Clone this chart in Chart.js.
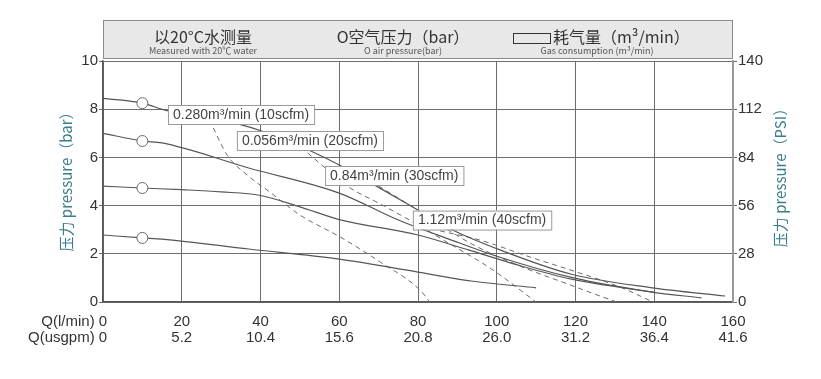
<!DOCTYPE html>
<html><head><meta charset="utf-8">
<script src="https://cdn.jsdelivr.net/npm/chart.js@4/dist/chart.umd.min.js"></script>
<style>html,body{margin:0;padding:0;background:#fff}#wrap{width:821px;height:379px;position:relative}</style>
</head><body><div id="wrap"><canvas id="c" width="821" height="379"></canvas></div>
<script>
// ---- tick labels ----
const flowTicks   = [0, 20, 40, 60, 80, 100, 120, 140, 160];
const lpmLabels   = ['0', '20', '40', '60', '80', '100', '120', '140', '160'];
const usgpmLabels = ['0', '5.2', '10.4', '15.6', '20.8', '26.0', '31.2', '36.4', '41.6'];
const barTicks    = [0, 2, 4, 6, 8, 10];
const psiTicks    = [0, 28, 56, 84, 112, 140];

// ---- pressure curves (flow l/min, pressure bar) ----
const curveA_x = [0, 10, 16, 34, 42, 51, 61, 69, 78, 88, 101, 119, 139, 158];
const curveA_y = [8.45, 8.25, 7.95, 7.4, 7.0, 6.4, 5.6, 4.85, 4.0, 3.05, 2.15, 1.15, 0.6, 0.25];
const curveB_x = [0, 10, 15, 37, 60, 75, 88, 100, 119, 139, 152];
const curveB_y = [7.0, 6.68, 6.6, 5.56, 4.52, 3.4, 2.6, 1.9, 1.02, 0.42, 0.17];
const curveC_x = [0, 10, 20, 30, 40, 50, 60, 80, 93, 105, 119, 140];
const curveC_y = [4.81, 4.73, 4.66, 4.57, 4.42, 3.95, 3.42, 2.78, 2.15, 1.55, 0.95, 0.4];
const curveD_x = [0, 10, 15, 37, 60, 80, 94, 110];
const curveD_y = [2.78, 2.66, 2.61, 2.2, 1.78, 1.24, 0.86, 0.59];
const markerFlow = 10;

// ---- air consumption curves (dashed) ----
const air10_x = [28, 31.5, 36.6, 42.4, 50, 60.2, 70.4, 80.5, 83];
const air10_y = [7.22, 6.1, 5.27, 4.56, 3.61, 2.7, 1.66, 0.5, 0];
const air20_x = [52, 55.6, 62, 70.4, 78.7, 88.1, 98.3, 110];
const air20_y = [6.18, 5.68, 4.81, 4.07, 3.32, 2.41, 1.41, 0];
const air30_x = [70, 78.7, 93.2, 105.9, 118.6, 126.2, 130.5];
const air30_y = [4.81, 3.94, 2.45, 1.49, 0.71, 0.25, 0];
const air40_x = [85.6, 95.7, 108.4, 121.1, 131.3, 139.7];
const air40_y = [2.95, 2.57, 1.87, 1.2, 0.62, 0];

const airLabels = ['0.280m³/min (10scfm)', '0.056m³/min (20scfm)', '0.84m³/min (30scfm)', '1.12m³/min (40scfm)'];
const airLabelFlow = [16.5, 34.0, 56.4, 78.7];
const airLabelBar  = [7.78, 6.70, 5.25, 3.40];

const zip = (xs, ys) => xs.map((x, i) => ({x: x, y: ys[i]}));

const solid = (xs, ys) => ({
  data: zip(xs, ys), borderColor: '#565656', borderWidth: 1.2, fill: false,
  cubicInterpolationMode: 'monotone',
  pointRadius: c => (c.raw && c.raw.x === markerFlow ? 5.5 : 0),
  pointHoverRadius: 0, pointBackgroundColor: '#fff', pointBorderColor: '#6a6a6a', pointBorderWidth: 1
});
const dashed = (xs, ys) => ({
  data: zip(xs, ys), borderColor: '#6a6a6a', borderWidth: 1, borderDash: [5, 4], fill: false,
  cubicInterpolationMode: 'monotone', pointRadius: 0, pointHoverRadius: 0
});

const FONT = "'Liberation Sans', Arial, sans-serif";
const CJK = "'Noto Sans CJK SC', 'Noto Sans', sans-serif";

const decor = {
  id: 'decor',
  afterDatasetsDraw(chart) {
    const ctx = chart.ctx, xs = chart.scales.x, ys = chart.scales.y;
    ctx.save();
    ctx.font = '14px ' + FONT;
    ctx.textBaseline = 'middle';
    ctx.textAlign = 'left';
    airLabels.forEach((t, i) => {
      const l = xs.getPixelForValue(airLabelFlow[i]);
      const cy = ys.getPixelForValue(airLabelBar[i]);
      const w = ctx.measureText(t).width + 10;
      ctx.fillStyle = '#fff';
      ctx.fillRect(l, cy - 9.5, w, 19);
      ctx.strokeStyle = '#9a9a9a';
      ctx.lineWidth = 1;
      ctx.strokeRect(l + 0.5, cy - 9.5 + 0.5, w, 19);
      ctx.fillStyle = '#444';
      ctx.fillText(t, l + 5, cy + 0.5);
    });
    ctx.restore();
  },
  afterDraw(chart) {
    const ctx = chart.ctx, a = chart.chartArea, xs = chart.scales.x;
    ctx.save();
    // header band
    const top = 20, bot = a.top - 3;
    ctx.fillStyle = '#e8e8e8';
    ctx.fillRect(a.left, top, a.right - a.left, bot - top);
    ctx.strokeStyle = '#8c8c8c';
    ctx.lineWidth = 1;
    ctx.strokeRect(a.left + 0.5, top + 0.5, a.right - a.left - 1, bot - top);
    ctx.fillStyle = '#333';
    ctx.textBaseline = 'middle';
    ctx.textAlign = 'center';
    ctx.font = '16px ' + CJK;
    ctx.fillText('以20°C水测量', 203, 37);
    ctx.fillText('O空气压力（bar）', 403, 37);
    ctx.textAlign = 'left';
    ctx.fillText('耗气量（m³/min）', 553, 37);
    ctx.strokeStyle = '#333';
    ctx.strokeRect(513.5, 33.5, 37, 10);
    ctx.textAlign = 'center';
    ctx.fillStyle = '#555';
    ctx.font = '9px ' + CJK;
    ctx.fillText('Measured with 20℃ water', 203, 51);
    ctx.fillText('O air pressure(bar)', 403, 51);
    ctx.fillText('Gas consumption (m³/min)', 597, 51);
    // axis titles
    ctx.fillStyle = '#3a7d8c';
    ctx.font = '15px ' + CJK;
    ctx.save(); ctx.translate(66, 178); ctx.rotate(-Math.PI / 2);
    ctx.fillText('压力 pressure（bar）', 0, 0); ctx.restore();
    ctx.save(); ctx.translate(780, 174); ctx.rotate(-Math.PI / 2);
    ctx.fillText('压力 pressure（PSI）', 0, 0); ctx.restore();
    // row captions for the flow axis
    ctx.fillStyle = '#333';
    ctx.font = '15px ' + FONT;
    ctx.textAlign = 'right';
    const x0 = xs.getPixelForValue(0) - ctx.measureText('0').width / 2;
    const r1 = xs.top + 12 + 8;
    ctx.fillText('Q(l/min) ', x0, r1);
    ctx.fillText('Q(usgpm) ', x0, r1 + 16);
    ctx.restore();
  }
};

new Chart(document.getElementById('c'), {
  type: 'line',
  data: {
    datasets: [
      solid(curveA_x, curveA_y), solid(curveB_x, curveB_y),
      solid(curveC_x, curveC_y), solid(curveD_x, curveD_y),
      dashed(air10_x, air10_y), dashed(air20_x, air20_y),
      dashed(air30_x, air30_y), dashed(air40_x, air40_y)
    ]
  },
  options: {
    responsive: false, animation: false, events: [],
    layout: {padding: {top: 61, left: 0, right: 0, bottom: 0}},
    plugins: {legend: {display: false}, tooltip: {enabled: false}},
    scales: {
      x: {
        type: 'linear', min: 0, max: 160,
        afterBuildTicks: s => { s.ticks = flowTicks.map(v => ({value: v})); },
        afterFit: s => { s.height = 77; },
        grid: {color: '#6e6e6e', lineWidth: 1, drawTicks: false},
        border: {color: '#555', width: 1.5},
        ticks: {
          padding: 12, maxRotation: 0, autoSkip: false, color: '#333',
          font: {family: FONT, size: 15, lineHeight: 1.07},
          callback: (v, i) => [lpmLabels[i], usgpmLabels[i]]
        }
      },
      y: {
        type: 'linear', position: 'left', min: 0, max: 10,
        afterBuildTicks: s => { s.ticks = barTicks.map(v => ({value: v})); },
        afterFit: s => { s.width = 103; },
        grid: {color: '#6e6e6e', lineWidth: 1, tickLength: 4},
        border: {color: '#555', width: 1.5},
        ticks: {padding: 1, color: '#333', font: {family: FONT, size: 15}}
      },
      y2: {
        type: 'linear', position: 'right', min: 0, max: 140,
        afterBuildTicks: s => { s.ticks = psiTicks.map(v => ({value: v})); },
        afterFit: s => { s.width = 88; },
        grid: {drawOnChartArea: false, color: '#6e6e6e', tickLength: 4},
        border: {color: '#9a9a9a', width: 2},
        ticks: {padding: 1, color: '#333', font: {family: FONT, size: 15}}
      }
    }
  },
  plugins: [decor]
});
</script></body></html>
